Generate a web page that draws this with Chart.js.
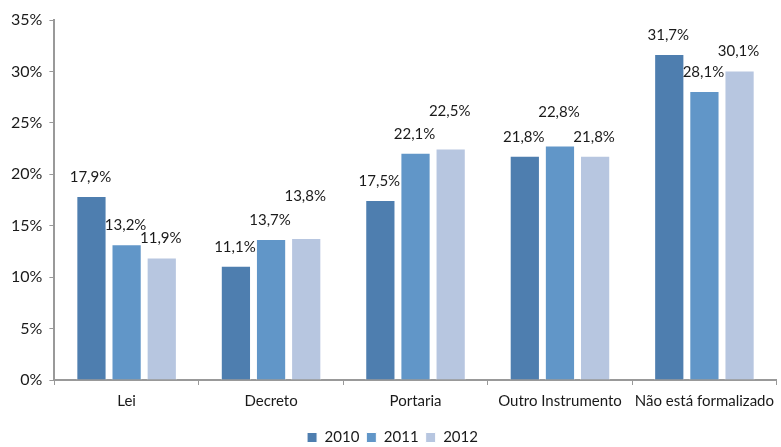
<!DOCTYPE html>
<html>
<head>
<meta charset="utf-8">
<script src="https://cdn.jsdelivr.net/npm/chart.js@4.4.1/dist/chart.umd.min.js"></script>
<style>
  html, body { margin: 0; padding: 0; background: #fff; }
  #wrap { width: 781px; height: 447px; }
</style>
</head>
<body>
<div id="wrap"><canvas id="grafico"></canvas></div>
<script>
// categorias e series
const categorias = ['Lei', 'Decreto', 'Portaria', 'Outro Instrumento', 'Não está formalizado'];
const anos = ['2010', '2011', '2012'];
const valores2010 = [17.9, 11.1, 17.5, 21.8, 31.7];
const valores2011 = [13.2, 13.7, 22.1, 22.8, 28.1];
const valores2012 = [11.9, 13.8, 22.5, 21.8, 30.1];
const yTicks = [0, 5, 10, 15, 20, 25, 30, 35];

// extra lift of some labels (px), as in the original
const elevar = [
    [0, 0, 0, 0, 0],
    [0, 0, 0, 14, 0],
    [0, 23, 18, 0, 0]
];

const cores = ['#4e7eaf', '#6196c8', '#b7c6e0'];
const fonte = 'Lato, "Open Sans", sans-serif';

// draws the value labels above each bar
const rotulos = {
    id: 'rotulos',
    afterDatasetsDraw(chart) {
        const ctx = chart.ctx;
        ctx.save();
        ctx.font = '15px ' + fonte;
        ctx.fillStyle = '#1a1a1a';
        ctx.textAlign = 'center';
        ctx.textBaseline = 'middle';
        chart.data.datasets.forEach((ds, i) => {
            const meta = chart.getDatasetMeta(i);
            meta.data.forEach((bar, j) => {
                const txt = ds.data[j].toFixed(1).replace('.', ',') + '%';
                ctx.fillText(txt, bar.x - 1, bar.y - 19 - elevar[i][j]);
            });
        });
        ctx.restore();
    }
};

new Chart(document.getElementById('grafico').getContext('2d'), {
    type: 'bar',
    data: {
        labels: categorias,
        datasets: [valores2010, valores2011, valores2012].map((v, i) => ({
            label: anos[i],
            data: v,
            backgroundColor: cores[i],
            borderColor: '#ffffff',
            borderWidth: 1,
            categoryPercentage: 0.73,
            barPercentage: 0.86
        }))
    },
    options: {
        responsive: true,
        maintainAspectRatio: false,
        animation: false,
        layout: { padding: { top: 20, right: 0, left: 4, bottom: -8 } },
        plugins: {
            legend: {
                position: 'bottom',
                labels: {
                    boxWidth: 10,
                    boxHeight: 10,
                    padding: 7,
                    color: '#1a1a1a',
                    font: { size: 15, family: fonte }
                }
            },
            tooltip: { enabled: false }
        },
        scales: {
            y: {
                min: 0,
                max: 35,
                afterBuildTicks: axis => { axis.ticks = yTicks.map(v => ({ value: v })); },
                ticks: {
                    color: '#1a1a1a',
                    padding: 7,
                    font: { size: 16, family: fonte },
                    callback: v => v + '%'
                },
                grid: { drawOnChartArea: false, drawTicks: true, tickLength: 5, color: '#999999' },
                border: { color: '#999999', width: 2 }
            },
            x: {
                afterFit: axis => { axis.height += 6; },
                ticks: {
                    color: '#1a1a1a',
                    padding: 7,
                    maxRotation: 0,
                    minRotation: 0,
                    autoSkip: false,
                    font: { size: 15, family: fonte }
                },
                grid: { drawOnChartArea: false, offset: true, tickLength: 5, color: '#999999' },
                border: { color: '#999999', width: 2 }
            }
        }
    },
    plugins: [rotulos]
});
</script>
</body>
</html>
